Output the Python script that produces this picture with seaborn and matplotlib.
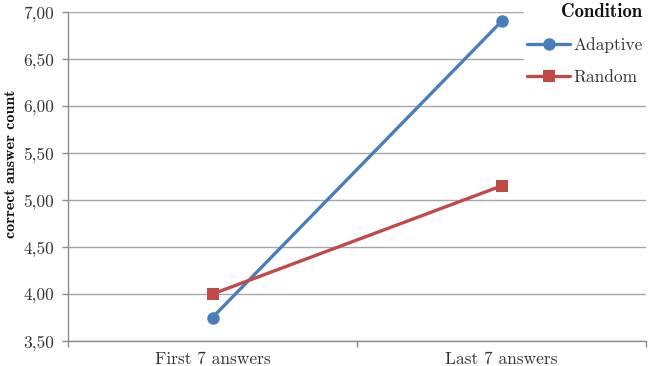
import matplotlib
matplotlib.use("Agg")
import matplotlib.pyplot as plt
import seaborn as sns
import pandas as pd
from matplotlib.ticker import FixedLocator, FixedFormatter

phases = ["First 7 answers", "Last 7 answers"]
adaptive = [3.75, 6.90]
random_ = [4.00, 5.15]
conditions = ["Adaptive", "Random"]
yticks = [3.5, 4.0, 4.5, 5.0, 5.5, 6.0, 6.5, 7.0]
ytick_labels = ["3,50", "4,00", "4,50", "5,00", "5,50", "6,00", "6,50", "7,00"]

df = pd.DataFrame({
    "phase": phases * 2,
    "count": adaptive + random_,
    "Condition": [conditions[0]] * 2 + [conditions[1]] * 2,
})

sns.set_style("white")
plt.rcParams["font.family"] = ["cmr10", "DejaVu Serif"]
plt.rcParams["axes.unicode_minus"] = False

fig = plt.figure(figsize=(6.54, 3.66), dpi=100)
ax = fig.add_axes([68/654, 1 - 341/366, 578/654, 329/366])

palette = {"Adaptive": "#4A7EBB", "Random": "#BE4B48"}
sns.lineplot(data=df, x="phase", y="count", hue="Condition", style="Condition",
             markers={"Adaptive": "o", "Random": "s"}, dashes=False,
             palette=palette, linewidth=2.4, markersize=9, markeredgewidth=0,
             ax=ax, sort=False, legend=True, zorder=3)

ax.set_xlim(-0.5, 1.5)
ax.set_ylim(3.5, 7.0)
ax.yaxis.set_major_locator(FixedLocator(yticks))
ax.yaxis.set_major_formatter(FixedFormatter(ytick_labels))
ax.grid(axis="y", color="#A6A6A6", linewidth=1.0)
ax.set_axisbelow(True)

for s in ["top", "right"]:
    ax.spines[s].set_visible(False)
for s in ["left", "bottom"]:
    ax.spines[s].set_color("#8C8C8C")
    ax.spines[s].set_linewidth(1.0)

ax.tick_params(axis="y", which="major", left=True, length=4, width=1, color="#8C8C8C",
               pad=6, labelsize=12.5, labelcolor="#333333")
ax.tick_params(axis="x", which="major", bottom=False, length=0, pad=8,
               labelsize=12.5, labelcolor="#333333")
ax.xaxis.set_minor_locator(FixedLocator([-0.5, 0.5, 1.5]))
ax.tick_params(axis="x", which="minor", bottom=True, length=4, width=1, color="#8C8C8C")

ax.set_xlabel("")
ax.set_ylabel("correct answer count", fontsize=11.5, family="cmb10", color="#111111")
ax.yaxis.set_label_coords(-0.086, 0.54)

handles, labels = ax.get_legend_handles_labels()
leg = ax.legend(handles, labels, title="Condition", loc="upper right",
                bbox_to_anchor=(645/654, 1.0), bbox_transform=fig.transFigure,
                frameon=True, facecolor="white", edgecolor="white", framealpha=1,
                fontsize=12.5, title_fontsize=13.5, handlelength=2.5, handletextpad=0.15,
                labelspacing=0.95, borderaxespad=0, borderpad=0.15)
leg.get_title().set_family("cmb10")
leg.get_title().set_color("#111111")
for t in leg.get_texts():
    t.set_color("#333333")
leg._legend_box.align = "right"

fig.savefig("out.png", dpi=100)
